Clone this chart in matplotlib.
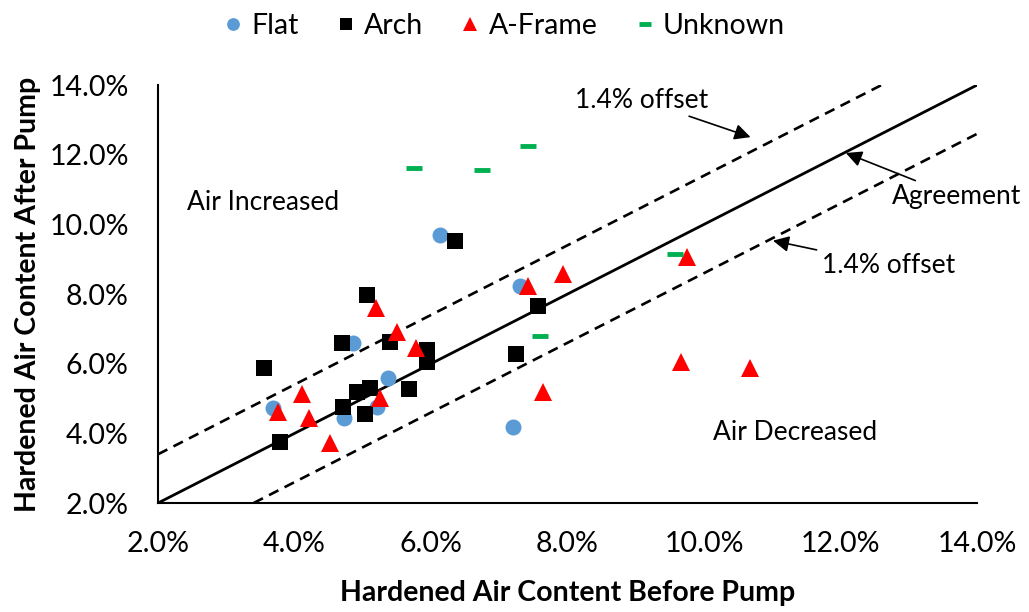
import matplotlib.pyplot as plt
from matplotlib.ticker import FuncFormatter

# values (air content, %)
flat_before = [3.69, 4.73, 4.86, 5.37, 5.21, 6.13, 7.30, 7.20]
flat_after = [4.73, 4.44, 6.59, 5.59, 4.76, 9.69, 8.23, 4.18]

arch_before = [3.55, 3.79, 4.70, 5.40, 5.94, 5.94, 4.92, 5.11, 4.71, 5.03, 5.68, 5.06, 6.35, 7.57, 7.25]
arch_after = [5.88, 3.75, 6.59, 6.62, 6.39, 6.05, 5.19, 5.30, 4.76, 4.56, 5.27, 7.97, 9.52, 7.66, 6.28]

aframe_before = [5.19, 5.50, 5.78, 4.11, 3.76, 4.21, 4.52, 5.25, 7.42, 7.93, 7.64, 9.75, 9.66, 10.67]
aframe_after = [7.60, 6.91, 6.45, 5.13, 4.61, 4.44, 3.72, 5.01, 8.23, 8.57, 5.19, 9.06, 6.05, 5.88]

unknown_before = [5.75, 6.75, 7.42, 7.60, 9.57]
unknown_after = [11.62, 11.56, 12.25, 6.79, 9.15]

agree_x = [2.0, 14.0]
agree_y = [2.0, 14.0]
upper_x = [2.0, 12.6]
upper_y = [3.4, 14.0]
lower_x = [3.4, 14.0]
lower_y = [2.0, 12.6]

FONT = "Lato"


def main():
    plt.rcParams["font.family"] = [FONT, "DejaVu Sans"]
    fig = plt.figure(figsize=(10.29, 6.12), dpi=100)
    ax = fig.add_axes([0.1535, 0.178, 0.796, 0.683])

    ax.plot(agree_x, agree_y, color="black", lw=2, zorder=2)
    ax.plot(upper_x, upper_y, color="black", lw=1.9, ls=(0, (4, 2.6)), zorder=2)
    ax.plot(lower_x, lower_y, color="black", lw=1.9, ls=(0, (4, 2.6)), zorder=2)

    ax.plot(flat_before, flat_after, "o", color="#5B9BD5", ms=11.5, mew=0,
            label="Flat", zorder=3)
    ax.plot(arch_before, arch_after, "s", color="black", ms=11, mew=0,
            label="Arch", zorder=3)
    ax.plot(aframe_before, aframe_after, "^", color="#FF0000", ms=12.5, mew=0,
            label="A-Frame", zorder=3)
    ax.plot(unknown_before, unknown_after, "_", color="#00B050", ms=11, mew=3.5,
            label="Unknown", zorder=3)

    ax.set_xlim(2, 14)
    ax.set_ylim(2, 14)
    ax.set_xticks([2, 4, 6, 8, 10, 12, 14])
    ax.set_yticks([2, 4, 6, 8, 10, 12, 14])
    pct = FuncFormatter(lambda v, p: "%.1f%%" % v)
    ax.xaxis.set_major_formatter(pct)
    ax.yaxis.set_major_formatter(pct)
    ax.tick_params(length=0, labelsize=20.5)
    ax.tick_params(axis="x", pad=20)
    ax.tick_params(axis="y", pad=21)
    for s in ["top", "right"]:
        ax.spines[s].set_visible(False)
    for s in ["left", "bottom"]:
        ax.spines[s].set_linewidth(1.5)

    ax.set_xlabel("Hardened Air Content Before Pump", fontsize=20.5, fontweight="bold", labelpad=17)
    ax.set_ylabel("Hardened Air Content After Pump", fontsize=20.5, fontweight="bold", labelpad=6)

    ax.text(2.42, 10.64, "Air Increased", fontsize=19, va="center")
    ax.text(10.13, 4.04, "Air Decreased", fontsize=19, va="center")

    arr = dict(arrowstyle="-|>", color="black", lw=1.2, mutation_scale=24)
    ax.annotate("1.4% offset", xy=(10.72, 12.48), xytext=(8.11, 13.57),
                fontsize=19, va="center", arrowprops=arr)
    ax.annotate("Agreement", xy=(12.04, 12.08), xytext=(12.75, 10.79),
                fontsize=19, va="center", arrowprops=arr, annotation_clip=False)
    ax.annotate("1.4% offset", xy=(10.97, 9.55), xytext=(11.73, 8.83),
                fontsize=19, va="center", arrowprops=arr)

    fig.legend(loc="upper center", bbox_to_anchor=(0.487, 1.02), ncol=4,
               frameon=False, fontsize=20.5, handletextpad=0.1, columnspacing=1.1,
               handlelength=1.1, markerscale=0.8)

    fig.savefig("out.png", dpi=100)


if __name__ == "__main__":
    main()
